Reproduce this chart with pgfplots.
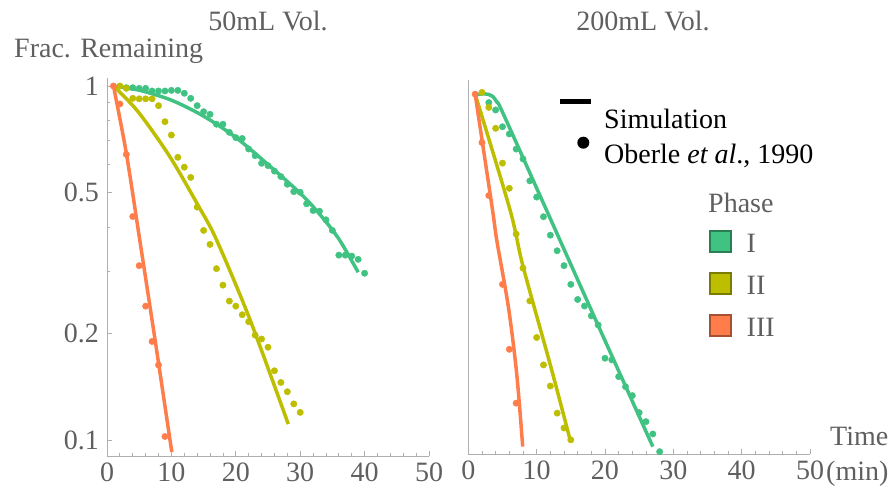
\documentclass[border=0pt]{standalone}
\usepackage{fontspec}
\setmainfont{Liberation Serif}
\usepackage{pgfplots}
\pgfplotsset{compat=1.18}

\definecolor{cI}{RGB}{64,194,130}
\definecolor{cII}{RGB}{190,190,0}
\definecolor{cIII}{RGB}{255,125,75}
\definecolor{txt}{RGB}{95,95,95}
\definecolor{axg}{RGB}{175,175,175}
\newcommand\fs{\fontsize{28}{32}\selectfont}

\pgfplotsset{
  mypanel/.style={
    scale only axis, anchor=south west,
    xmin=0, xmax=50, ymin=0.0902, ymax=1.0534,
    axis lines=left, axis line style={draw=axg, line width=1pt, -},
    tick align=inside, tick style={draw=axg, line width=0.8pt},
    major tick length=5pt, minor tick length=3pt,
    xtick={0,10,20,30,40,50}, xticklabels={0,10,20,30,40,50},
    minor xtick={2,4,6,8,12,14,16,18,22,24,26,28,32,34,36,38,42,44,46,48},
    tick label style={font=\fs, text=txt, inner sep=0pt},
    xticklabel style={anchor=north, yshift=-7pt},
    yticklabel style={anchor=east, xshift=-8pt},
    clip=false,
  },
  sim/.style={no marks, line width=3.5pt, smooth, tension=0.5},
  obs/.style={only marks, mark=*, mark size=3.2pt},
}

\begin{document}
\begin{tikzpicture}
\useasboundingbox (0,0) rectangle (896pt,-489pt);

% ---------- 50 mL ----------
\begin{axis}[ymode=log, mypanel, at={(107pt,-456pt)}, width=322pt, height=378pt,
  ytick={0.1,0.2,0.5,1}, yticklabels={0.1,0.2,0.5,1},
  minor ytick={0.3,0.4,0.6,0.7,0.8,0.9}]
\addplot[sim, cI] coordinates {(1,1) (5,0.973) (10,0.912) (15,0.822) (20,0.716)
  (25,0.6) (30,0.498) (33,0.435) (36,0.37) (39,0.298)};
\addplot[sim, cII] coordinates {(1,1) (4.83,0.846) (9.75,0.632) (14.3,0.455)
  (17,0.368) (22.2,0.219) (28.15,0.111)};
\addplot[sim, cIII] coordinates {(1,1) (3,0.646) (5.08,0.368) (7.5,0.19) (10.06,0.0926)};

\addplot[obs, cI] coordinates {(3,0.989) (4,0.989) (5,0.985) (6,0.985) (7,0.968)
  (8,0.968) (9,0.968) (10,0.972) (11,0.972) (12,0.954) (13,0.923) (14,0.88)
  (15,0.846) (16,0.832) (17,0.78) (18,0.78) (19,0.74) (20,0.715) (21,0.711)
  (22,0.664) (23,0.636) (24,0.605) (25,0.596) (26,0.575) (27,0.555) (28,0.528)
  (29,0.503) (30,0.501) (31,0.465) (32,0.445) (33,0.443) (34,0.419) (35,0.391)
  (36,0.333) (37,0.333) (38,0.331) (39,0.324) (40,0.296)};
\addplot[obs, cII] coordinates {(2,1.0) (3,0.985) (4,0.923) (5,0.92) (6,0.92)
  (7,0.92) (8,0.88) (9,0.793) (10,0.727) (11,0.629) (12,0.59) (13,0.552)
  (14,0.455) (15,0.391) (16,0.357) (17,0.305) (18,0.274) (19,0.247) (20,0.239)
  (21,0.226) (22,0.216) (23,0.198) (24,0.193) (25,0.183) (26,0.157) (27,0.1455)
  (28,0.137) (29,0.1266) (30,0.1198)};
\addplot[obs, cIII] coordinates {(1,1) (2,0.89) (3,0.641) (4,0.428) (5,0.311)
  (6,0.239) (7,0.19) (8,0.163) (9,0.1024)};
\end{axis}

% ---------- 200 mL ----------
\begin{axis}[ymode=log, mypanel, at={(468.3pt,-454pt)}, width=341.7pt, height=374pt,
  ytick=\empty, minor ytick={}]
\addplot[sim, cI] coordinates {(1.2,0.955) (2,0.962) (3,0.958) (3.6,0.945)
  (4.2,0.91) (5,0.853) (11.2,0.459) (19,0.21) (27,0.0947)};
\addplot[sim, cII] coordinates {(1,0.96) (6.1,0.449) (8,0.31) (12,0.162) (14.9,0.099)};
\addplot[sim, cIII] coordinates {(1,0.96) (3.51,0.453) (4.16,0.368) (5.86,0.2375)
  (7.08,0.153) (7.96,0.0947)};

\addplot[obs, cI] coordinates {(3,0.908) (4,0.865) (5,0.775) (6,0.739) (7,0.669)
  (8,0.627) (9,0.543) (10,0.488) (11,0.429) (12,0.38) (13,0.343) (14,0.311)
  (15,0.275) (16,0.249) (17,0.2385) (18,0.2236) (19,0.2106) (20,0.1693)
  (21,0.1674) (22,0.15) (23,0.1404) (24,0.1324) (25,0.1184) (26,0.1116)
  (27,0.1029) (28,0.0916)};
\addplot[obs, cII] coordinates {(2,0.971) (3,0.88) (4,0.767) (5,0.61) (6,0.517)
  (7,0.383) (8,0.306) (9,0.2466) (10,0.194) (11,0.162) (12,0.141) (13,0.118)
  (14,0.107) (15,0.099)};
\addplot[obs, cIII] coordinates {(1,0.96) (2,0.698) (3,0.493) (5,0.275)
  (6,0.1795) (7,0.126)};
\end{axis}

% titles and axis labels
\node[font=\fs, text=txt, anchor=base] at (268pt,-30.5pt) {50mL Vol.};
\node[font=\fs, text=txt, anchor=base] at (643pt,-30.5pt) {200mL Vol.};
\node[font=\fs, text=txt, anchor=base west, inner sep=0pt] at (14pt,-58pt) {Frac. Remaining};
\node[font=\fs, text=txt, anchor=base west, inner sep=0pt] at (830pt,-445pt) {Time};
\node[font=\fs, text=txt, anchor=base west, inner sep=0pt] at (826pt,-480pt) {(min)};

% legend
\draw[black, line width=5pt] (560pt,-102pt) -- (591pt,-102pt);
\node[font=\fs, anchor=base west, inner sep=0pt] at (604pt,-129pt) {Simulation};
\fill[black] (583.3pt,-142.7pt) circle (6pt);
\node[font=\fs, anchor=base west, inner sep=0pt] at (604pt,-164pt) {Oberle \textit{et al}., 1990};
\node[font=\fs, text=txt, anchor=base west, inner sep=0pt] at (708pt,-212.5pt) {Phase};
\filldraw[fill=cI, draw=cI!65!black, line width=1.5pt] (710pt,-231pt) rectangle (731pt,-252pt);
\filldraw[fill=cII, draw=cII!65!black, line width=1.5pt] (710pt,-273pt) rectangle (731pt,-294pt);
\filldraw[fill=cIII, draw=cIII!65!black, line width=1.5pt] (710pt,-315pt) rectangle (731pt,-336pt);
\node[font=\fs, text=txt, anchor=base west, inner sep=0pt] at (746.5pt,-252pt) {I};
\node[font=\fs, text=txt, anchor=base west, inner sep=0pt] at (746.5pt,-294pt) {II};
\node[font=\fs, text=txt, anchor=base west, inner sep=0pt] at (746.5pt,-336pt) {III};
\end{tikzpicture}
\end{document}
